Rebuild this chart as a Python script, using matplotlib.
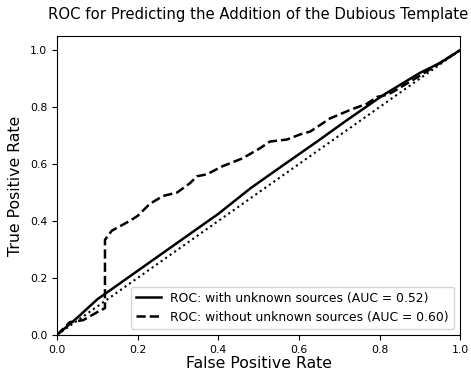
import matplotlib
matplotlib.use("Agg")
import matplotlib.pyplot as plt

fpr_with = [0.0, 0.05, 0.10, 0.12, 0.20, 0.30, 0.40, 0.48, 0.55, 0.645, 0.72, 0.81, 0.90, 0.95, 1.0]
tpr_with = [0.0, 0.06, 0.125, 0.145, 0.225, 0.325, 0.425, 0.515, 0.585, 0.679, 0.755, 0.843, 0.92, 0.955, 1.0]

fpr_without = [0.0, 0.032, 0.065, 0.10, 0.119, 0.119, 0.136, 0.18, 0.20, 0.23, 0.263, 0.298, 0.33,
               0.347, 0.372, 0.41, 0.46, 0.503, 0.528, 0.57, 0.603, 0.628, 0.677, 0.727, 0.769,
               0.794, 0.819, 0.834, 0.90, 0.95, 1.0]
tpr_without = [0.0, 0.045, 0.052, 0.08, 0.094, 0.334, 0.366, 0.40, 0.418, 0.46, 0.488, 0.50, 0.533,
               0.557, 0.564, 0.592, 0.62, 0.655, 0.679, 0.686, 0.704, 0.714, 0.76, 0.79, 0.812,
               0.836, 0.843, 0.854, 0.91, 0.955, 1.0]

auc_with = 0.52
auc_without = 0.60

fig = plt.figure(figsize=(4.71, 3.78), dpi=100)
ax = fig.add_axes([0.121, 0.114, 0.856, 0.791])
ax.plot(fpr_with, tpr_with, color='black', lw=1.8, linestyle='-',
        label=f'ROC: with unknown sources (AUC = {auc_with:.2f})')
ax.plot(fpr_without, tpr_without, color='black', lw=1.8, linestyle='--',
        label=f'ROC: without unknown sources (AUC = {auc_without:.2f})')
ax.plot([0, 1], [0, 1], color='black', lw=1.5, linestyle=':')
ax.set_xlim(0.0, 1.0)
ax.set_ylim(0.0, 1.05)
ax.set_xlabel('False Positive Rate', fontsize=11.3, labelpad=1)
ax.set_ylabel('True Positive Rate', fontsize=11.3, labelpad=5)
ax.set_title('ROC for Predicting the Addition of the Dubious Template', fontsize=10.7, pad=12)
ax.tick_params(labelsize=7.8)
ax.legend(loc='lower right', fontsize=8.9)
fig.savefig('out.png', dpi=100)
